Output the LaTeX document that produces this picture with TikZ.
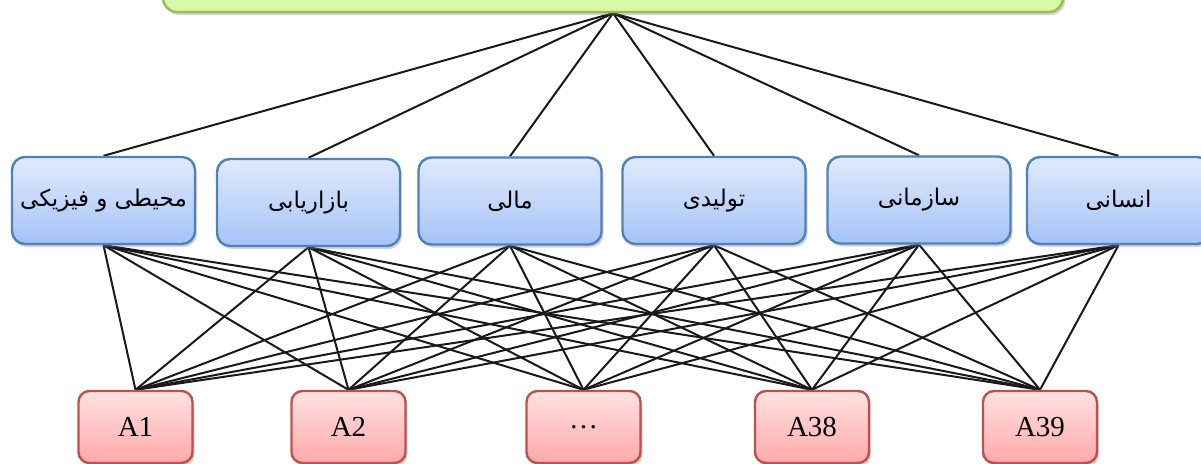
\documentclass[tikz,border=0pt]{standalone}
\usepackage{fontspec}
\setmainfont{Liberation Serif}
\newfontfamily\fa[Script=Arabic]{DejaVu Sans}
\TeXXeTstate=1
\usetikzlibrary{shadows,backgrounds}
\definecolor{blueB}{HTML}{4F81BD}
\definecolor{blueT}{HTML}{E0EAFC}
\definecolor{blueD}{HTML}{A5C3F7}
\definecolor{redB}{HTML}{C0504D}
\definecolor{redT}{HTML}{FFE2E2}
\definecolor{redD}{HTML}{FFA9A9}
\definecolor{grnB}{HTML}{9BBB59}
\definecolor{grnT}{HTML}{E4FBC2}
\definecolor{grnD}{HTML}{D6F8A2}
\tikzset{
  shad/.style={drop shadow={shadow xshift=2pt,shadow yshift=-3pt,opacity=0.35}},
  goalbox/.style={draw=grnB,line width=2.4pt,rounded corners=14pt,top color=grnT,bottom color=grnD,minimum width=900pt,minimum height=64pt,shad},
  critbox/.style={draw=blueB,line width=2.4pt,rounded corners=13pt,top color=blueT,bottom color=blueD,minimum width=183pt,minimum height=87pt,inner sep=0pt,shad,font=\fa\fontsize{23}{27}\selectfont},
  altbox/.style={draw=redB,line width=2.4pt,rounded corners=11pt,top color=redT,bottom color=redD,minimum width=114pt,minimum height=72pt,inner sep=0pt,shad,font=\fontsize{29}{33}\selectfont},
  link/.style={line width=2pt,black!90}
}
\begin{document}
\begin{tikzpicture}[x=1pt,y=-1pt]
\useasboundingbox (0,0) rectangle (1201,463);
\node[goalbox] (g) at (613,-20) {};
\node[critbox] (c1) at (103.5,200.5) {\beginR محیطی و فیزیکی\endR};
\node[critbox] (c2) at (308.5,202.5) {\beginR بازاریابی\endR};
\node[critbox] (c3) at (510,201) {\beginR مالی\endR};
\node[critbox] (c4) at (714,200.5) {\beginR تولیدی\endR};
\node[critbox] (c5) at (919,200) {\beginR سازمانی\endR};
\node[critbox] (c6) at (1118.5,200.5) {\beginR انسانی\endR};
\node[altbox] (a1) at (135.5,427) {A1};
\node[altbox] (a2) at (348.5,427) {A2};
\node[altbox] (a3) at (583.5,427) {\ldots};
\node[altbox] (a4) at (812,427) {A38};
\node[altbox] (a5) at (1040,427) {A39};
\begin{scope}[on background layer]
\foreach \c in {c1,c2,c3,c4,c5,c6}{
  \draw[link] (g.south) -- (\c.north);
  \foreach \a in {a1,a2,a3,a4,a5}{
    \draw[link] (\c.south) -- (\a.north);
  }
}
\end{scope}
\end{tikzpicture}
\end{document}
